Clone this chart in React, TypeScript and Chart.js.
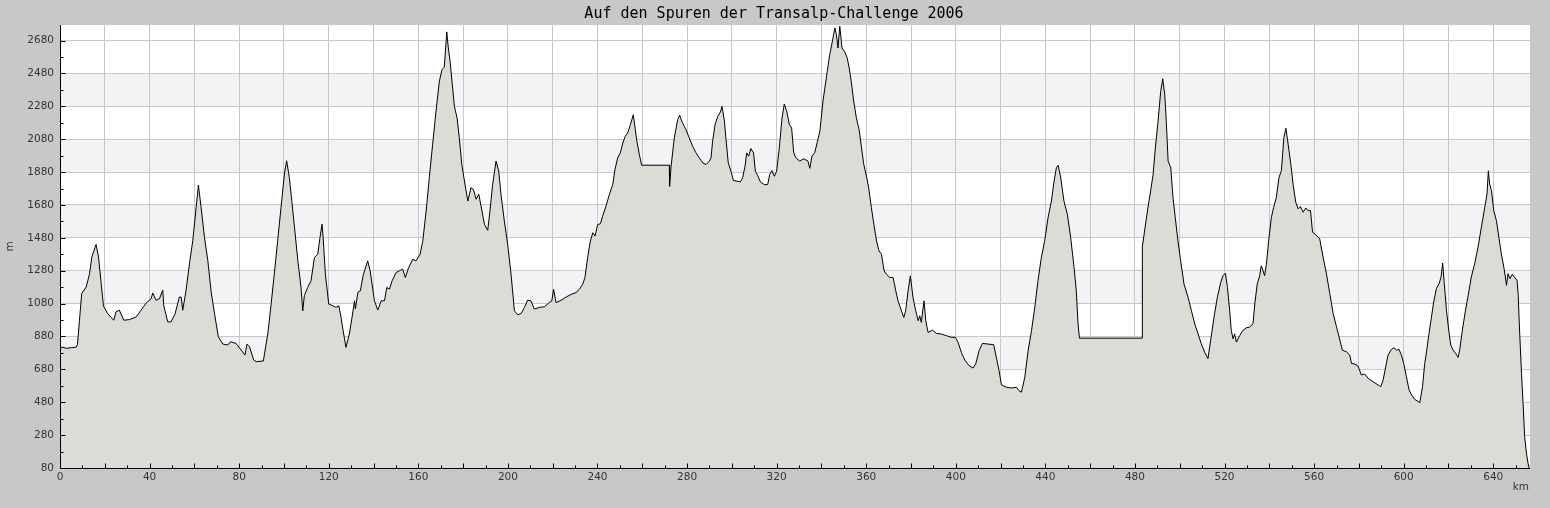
import React, { useEffect, useRef } from "react";
import { Chart, registerables } from "chart.js";

Chart.register(...registerables);

const TITLE = "Auf den Spuren der Transalp-Challenge 2006";
const X_UNIT = "km";
const Y_UNIT = "m";

const X_MIN = 0;
const X_MAX = 656.4;
const Y_MIN = 80;
const Y_MAX = 2775;

const xTickValues = Array.from({ length: 66 }, (_, i) => i * 10);
const xLabelValues = [0, 40, 80, 120, 160, 200, 240, 280, 320, 360, 400, 440, 480, 520, 560, 600, 640];
const yTickValues = Array.from({ length: 27 }, (_, i) => 80 + i * 100);
const yLabelValues = [80, 280, 480, 680, 880, 1080, 1280, 1480, 1680, 1880, 2080, 2280, 2480, 2680];
const bandStarts = [280, 680, 1080, 1480, 1880, 2280];

const kmValues = [
  0, 1, 3, 5, 7.2, 7.8, 8.7, 9.7, 11.7, 13.2, 14.2, 16.1, 17.2, 18.4, 19.4, 21.3, 24, 25, 26.5, 28.5,
  31, 34, 36.2, 38.5, 40.7, 41.4, 42.9, 44.4, 45.9, 46.3, 48.1, 49.6, 51.4, 53.3, 54.1, 54.8, 56.3, 57.8, 59.3, 60.8,
  61.8, 63, 64.5, 66, 67.5, 69, 70.7, 72.7, 74.9, 76.1, 78.6, 80.9, 82.6, 83.5, 84.6, 86.5, 87.6, 90.8, 92.8, 94.3,
  95.7, 97.2, 98.7, 100.2, 101.2, 102.4, 103.5, 104.7, 106.2, 107.6, 108.4, 109.1, 110.6, 112.1, 113.6, 115.1, 116.1, 117, 117.6, 118.5,
  120, 121.8, 123.3, 124.5, 125.5, 126.3, 127.7, 129.2, 130.4, 131.5, 131.9, 133, 134.1, 135.5, 136.7, 137.4, 138.5, 140.4, 141.9, 143.4,
  144.9, 145.9, 147.1, 148.3, 150.1, 151.5, 153, 154.2, 155.7, 157.5, 159, 160.8, 162, 163.5, 164.9, 166.4, 167.9, 169.4, 170.6, 171.6,
  172.7, 173.4, 174.2, 175.1, 176.1, 177.3, 178.3, 179.4, 180.6, 182.1, 183.5, 184.6, 185.8, 187, 188, 189.5, 191, 192, 193.2, 194.7,
  195.9, 196.9, 198.4, 199.9, 201.4, 202.9, 204.4, 205.9, 207.4, 208.8, 210.3, 211.8, 214, 216.3, 218.5, 219.6, 220.4, 221.5, 223.7, 226,
  228.2, 230.4, 231.9, 233.4, 234.4, 235.6, 236.8, 237.9, 238.9, 240.1, 241.3, 242.3, 243.8, 245.3, 246.8, 247.8, 249, 250.2, 251.3, 252.4,
  253.5, 254.7, 256, 256.8, 257.6, 258.7, 259.7, 272.1, 272.2, 272.8, 274.3, 275.8, 276.7, 278, 279.5, 281, 282.5, 284, 285.5, 287,
  288.5, 289.9, 290.7, 291.4, 292.5, 293.7, 294.9, 295.6, 296.7, 297.4, 298.4, 299.6, 300.7, 302.3, 303.8, 304.8, 305.9, 306.6, 307.5, 308.5,
  309.7, 310.5, 311.5, 312.7, 314.5, 316, 316.9, 317.9, 319, 320, 321.2, 322.4, 323.4, 324.5, 325.7, 326.7, 327.6, 328.5, 330.3, 332.1,
  334, 334.8, 335.8, 337, 338.1, 339.3, 340.7, 342.2, 343.7, 344.9, 346, 346.7, 347.4, 348.2, 349.2, 350.4, 351.5, 352.4, 353.4, 354.4,
  355.6, 356.8, 357.9, 358.9, 360.1, 361.1, 362.3, 363.4, 364.6, 365.7, 366.8, 368, 369, 370.5, 372, 373.2, 374.2, 375.7, 376.8, 377.6,
  378.7, 379.7, 380.9, 382.1, 383.2, 383.9, 384.6, 385.8, 386.6, 387.6, 389.6, 391.3, 393.6, 395.8, 398, 399.8, 401, 402.5, 404, 405.9,
  407.7, 408.9, 410.4, 411.9, 414.4, 416.9, 418.1, 419.3, 420.4, 422.6, 424.8, 427.1, 428.2, 429.3, 430.8, 432.3, 433.8, 435.2, 436.7, 438.2,
  439.7, 441.2, 442.7, 443.9, 444.9, 445.7, 446.8, 448.3, 449.8, 451.3, 452.8, 453.8, 454.6, 455.2, 483.2, 483.3, 484.3, 485.8, 487, 488.1,
  489.1, 490.3, 491.5, 492.4, 493.3, 494, 494.8, 496, 497, 498, 499.2, 500.4, 501.9, 503.7, 505.2, 506.7, 508.2, 509.6, 511.1, 512.6,
  513.8, 515.3, 516.8, 518.3, 519.3, 520.4, 521.3, 522.3, 523, 523.8, 524.5, 525.3, 526.8, 528.2, 529.7, 531.2, 532.7, 533.5, 534.6, 535.7,
  536.4, 537.2, 537.9, 538.7, 539.7, 540.9, 541.9, 543.1, 544.3, 545.4, 546.5, 547.4, 548.4, 549.6, 550.6, 551.8, 552.9, 553.9, 555.1, 556.3,
  557.3, 558.4, 559.3, 560.7, 562.5, 564, 565.5, 567, 568.5, 570, 571.5, 572.6, 574.4, 575.9, 576.7, 578.2, 579.6, 581.1, 582.6, 584.1,
  586.3, 588.6, 589.8, 590.8, 592, 593, 594.5, 595.7, 596.8, 597.9, 599, 600, 601.2, 602.4, 603.5, 604.9, 607.2, 608.4, 609.4, 610.1,
  611.3, 612.4, 613.4, 614.6, 615.8, 616.7, 617.4, 618, 619.1, 620.1, 621, 622.1, 623.2, 624.3, 625, 626.2, 627.6, 628.8, 630.2, 631.7,
  633.2, 634.7, 636.2, 637.2, 637.8, 638.4, 639.2, 640.2, 641.4, 642.6, 643.6, 644.7, 645.4, 645.9, 646.6, 647.4, 648.5, 649.6, 650.6, 651.1,
  651.8, 652.6, 653.3, 654, 654.8, 655.5, 656,
];

const elevationValues = [
  810, 815, 808, 812, 815, 830, 979, 1141, 1181, 1262, 1363, 1440, 1363, 1201, 1066, 1019, 979, 1030, 1040, 979,
  983, 999, 1040, 1084, 1110, 1145, 1100, 1110, 1161, 1070, 969, 969, 1019, 1120, 1120, 1040, 1161, 1322, 1464, 1666,
  1801, 1666, 1484, 1343, 1151, 1019, 878, 834, 828, 848, 838, 797, 767, 834, 818, 737, 727, 731, 898, 1080,
  1262, 1464, 1666, 1868, 1949, 1848, 1706, 1545, 1343, 1181, 1036, 1128, 1178, 1219, 1360, 1381, 1482, 1563, 1462, 1259,
  1077, 1067, 1057, 1067, 996, 925, 814, 895, 996, 1097, 1047, 1148, 1158, 1259, 1310, 1340, 1279, 1097, 1041, 1097,
  1097, 1178, 1168, 1219, 1269, 1279, 1290, 1239, 1300, 1350, 1340, 1381, 1462, 1644, 1846, 2049, 2251, 2433, 2504, 2518,
  2733, 2635, 2555, 2423, 2281, 2210, 2089, 1927, 1826, 1704, 1785, 1775, 1715, 1745, 1674, 1563, 1526, 1644, 1806, 1947,
  1887, 1745, 1583, 1441, 1259, 1037, 1012, 1020, 1057, 1101, 1097, 1047, 1057, 1061, 1086, 1096, 1167, 1086, 1100, 1120,
  1136, 1147, 1167, 1197, 1238, 1359, 1460, 1511, 1491, 1561, 1566, 1612, 1673, 1744, 1804, 1895, 1966, 1997, 2057, 2098,
  2118, 2169, 2229, 2148, 2067, 1987, 1922, 1922, 1794, 1906, 2088, 2199, 2225, 2179, 2138, 2088, 2037, 1997, 1966, 1936,
  1926, 1946, 1966, 2067, 2169, 2219, 2246, 2280, 2189, 2078, 1936, 1885, 1829, 1825, 1821, 1845, 1916, 1997, 1977, 2023,
  1997, 1885, 1861, 1821, 1804, 1804, 1865, 1889, 1855, 1885, 2027, 2209, 2294, 2250, 2169, 2148, 2000, 1968, 1947, 1961,
  1947, 1903, 1978, 1998, 2059, 2129, 2312, 2453, 2595, 2676, 2757, 2716, 2635, 2767, 2635, 2611, 2575, 2514, 2423, 2312,
  2210, 2140, 2028, 1927, 1856, 1785, 1664, 1563, 1462, 1401, 1381, 1279, 1259, 1239, 1239, 1158, 1097, 1037, 996, 1037,
  1158, 1249, 1117, 1037, 976, 1006, 966, 1097, 976, 905, 919, 899, 895, 885, 875, 875, 844, 783, 737, 703,
  688, 713, 794, 838, 834, 830, 753, 672, 585, 571, 567, 571, 551, 541, 631, 794, 915, 1050, 1220, 1361,
  1462, 1603, 1704, 1825, 1906, 1922, 1850, 1704, 1624, 1482, 1300, 1159, 957, 870, 870, 1426, 1522, 1664, 1765, 1866,
  2027, 2189, 2371, 2448, 2351, 2189, 1947, 1906, 1724, 1603, 1462, 1341, 1199, 1119, 1038, 957, 896, 836, 785, 745,
  856, 997, 1119, 1209, 1250, 1264, 1179, 1038, 917, 866, 896, 846, 886, 917, 933, 937, 957, 1078, 1199, 1250,
  1310, 1280, 1250, 1320, 1462, 1603, 1664, 1724, 1846, 1890, 2090, 2147, 2050, 1928, 1807, 1696, 1656, 1670, 1636, 1662,
  1646, 1646, 1514, 1500, 1474, 1363, 1262, 1141, 1020, 939, 858, 797, 787, 767, 716, 712, 700, 646, 652, 626,
  605, 585, 575, 615, 696, 767, 801, 811, 797, 801, 767, 716, 636, 555, 525, 498, 478, 575, 716, 777,
  898, 999, 1090, 1171, 1201, 1242, 1327, 1222, 1040, 919, 828, 797, 777, 753, 797, 919, 1040, 1131, 1242, 1323,
  1424, 1545, 1666, 1747, 1888, 1807, 1767, 1646, 1585, 1474, 1383, 1302, 1242, 1191, 1262, 1232, 1258, 1238, 1222, 1141,
  898, 656, 474, 272, 171, 110, 80,
];

const decorPlugin = {
  id: "decor",
  beforeDraw(chart: any) {
    const { ctx, chartArea: a, scales } = chart;
    const ys = scales.y;
    ctx.save();
    ctx.fillStyle = "#c8c8c8";
    ctx.fillRect(0, 0, chart.width, chart.height);
    ctx.fillStyle = "#ffffff";
    ctx.fillRect(a.left, a.top, a.right - a.left, a.bottom - a.top);
    ctx.fillStyle = "#f3f2f5";
    for (const b of bandStarts) {
      const top = Math.round(ys.getPixelForValue(b + 200));
      const bot = Math.round(ys.getPixelForValue(b));
      ctx.fillRect(a.left, top, a.right - a.left, bot - top);
    }
    ctx.restore();
  },
  afterDatasetsDraw(chart: any) {
    const { ctx, chartArea: a, scales } = chart;
    const xs = scales.x;
    const ys = scales.y;
    ctx.save();
    ctx.strokeStyle = "#000000";
    ctx.lineWidth = 1;
    ctx.beginPath();
    const bx = Math.round(a.left) + 0.5;
    const by = Math.round(a.bottom) + 0.5;
    ctx.moveTo(bx, a.top);
    ctx.lineTo(bx, by);
    ctx.lineTo(a.right, by);
    for (const v of xTickValues) {
      const px = Math.round(xs.getPixelForValue(v)) + 0.5;
      const len = v % 20 === 0 ? 5 : 3;
      ctx.moveTo(px, by);
      ctx.lineTo(px, by - len);
    }
    for (const v of yTickValues) {
      const py = Math.round(ys.getPixelForValue(v)) + 0.5;
      const len = (v - 80) % 200 === 0 ? 5 : 3;
      ctx.moveTo(bx, py);
      ctx.lineTo(bx + len, py);
    }
    ctx.stroke();
    ctx.restore();
  },
  afterDraw(chart: any) {
    const { ctx, chartArea: a } = chart;
    ctx.save();
    ctx.fillStyle = "#000000";
    ctx.font = '15px "DejaVu Sans Mono"';
    ctx.textAlign = "center";
    ctx.textBaseline = "middle";
    ctx.fillText(TITLE, 774, 14.5);
    ctx.fillStyle = "#333333";
    ctx.font = '10.5px "DejaVu Sans"';
    ctx.textAlign = "right";
    ctx.fillText(X_UNIT, a.right - 1, 487.5);
    ctx.translate(10, (a.top + a.bottom) / 2);
    ctx.rotate(-Math.PI / 2);
    ctx.textAlign = "center";
    ctx.fillText(Y_UNIT, 0, 0);
    ctx.restore();
  },
};

export default function App() {
  const canvasRef = useRef<HTMLCanvasElement | null>(null);

  useEffect(() => {
    document.body.style.margin = "0";
    const canvas = canvasRef.current;
    if (!canvas) return;
    const points = kmValues.map((k, i) => ({ x: k, y: elevationValues[i] }));
    const tickFont = { family: '"DejaVu Sans"', size: 10.5 };
    const chart = new Chart(canvas, {
      type: "line",
      data: {
        datasets: [
          {
            data: points,
            borderColor: "#000000",
            borderWidth: 1,
            backgroundColor: "#dcdbd6",
            fill: "start",
            pointRadius: 0,
            tension: 0,
          },
        ],
      },
      options: {
        animation: false,
        responsive: false,
        maintainAspectRatio: false,
        devicePixelRatio: 1,
        events: [],
        layout: { padding: { top: 25, right: 20, left: 0, bottom: 0 } },
        plugins: {
          legend: { display: false },
          tooltip: { enabled: false },
          title: { display: false },
        },
        scales: {
          x: {
            type: "linear",
            min: X_MIN,
            max: X_MAX,
            afterBuildTicks: (scale: any) => {
              scale.ticks = xTickValues.map((v) => ({ value: v }));
            },
            afterFit: (scale: any) => {
              scale.height = 40;
            },
            ticks: {
              autoSkip: false,
              maxRotation: 0,
              minRotation: 0,
              padding: 3,
              color: "#333333",
              font: tickFont,
              callback: (v: any) => (xLabelValues.includes(Number(v)) ? String(v) : ""),
            },
            grid: {
              drawTicks: false,
              color: (c: any) => (c.tick && c.tick.value % 20 === 0 ? "#c8c8c8" : "rgba(0,0,0,0)"),
              lineWidth: 1,
            },
            border: { display: false },
          },
          y: {
            type: "linear",
            min: Y_MIN,
            max: Y_MAX,
            afterBuildTicks: (scale: any) => {
              scale.ticks = yTickValues.map((v) => ({ value: v }));
            },
            afterFit: (scale: any) => {
              scale.width = 60;
            },
            ticks: {
              autoSkip: false,
              padding: 6,
              color: "#333333",
              font: tickFont,
              callback: (v: any) => (yLabelValues.includes(Number(v)) ? String(v) : ""),
            },
            grid: {
              drawTicks: false,
              color: (c: any) => (c.tick && (c.tick.value - 80) % 200 === 0 ? "#c8c8c8" : "rgba(0,0,0,0)"),
              lineWidth: 1,
            },
            border: { display: false },
          },
        },
      } as any,
      plugins: [decorPlugin],
    });
    return () => {
      chart.destroy();
    };
  }, []);

  return (
    <div style={{ position: "fixed", left: 0, top: 0, width: 1550, height: 508, background: "#c8c8c8" }}>
      <canvas ref={canvasRef} width={1550} height={508} style={{ width: 1550, height: 508, display: "block" }} />
    </div>
  );
}
